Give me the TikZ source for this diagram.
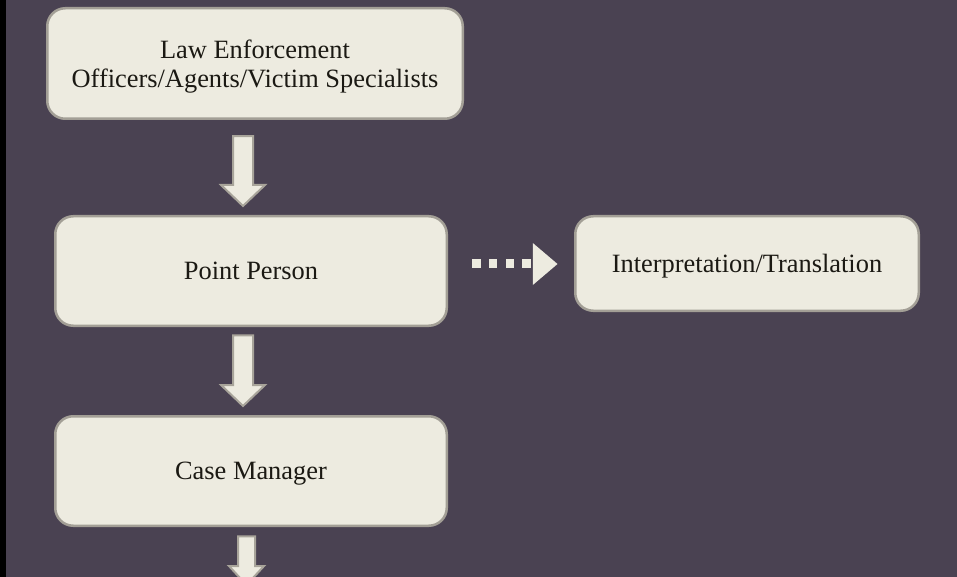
\documentclass[tikz,border=0pt]{standalone}
\usepackage{fontspec}
\setmainfont{Liberation Serif}
\usetikzlibrary{calc}
\definecolor{bgpurple}{HTML}{4A4252}
\definecolor{boxfill}{HTML}{EDEBE0}
\definecolor{boxline}{HTML}{A39F96}
\definecolor{arrline}{HTML}{A8A49A}
\definecolor{textdark}{HTML}{1B1913}
\newcommand\downblock[5]{%
  \draw[blockarr] let \p1=(#1), \p2=(#2) in
    (\x1-#3,\y1) -- (\x1+#3,\y1) -- (\x1+#3,\y2+#5) -- (\x1+#4,\y2+#5)
    -- (\x1,\y2) -- (\x1-#4,\y2+#5) -- (\x1-#3,\y2+#5) -- cycle;}
\begin{document}
\begin{tikzpicture}[x=1pt,y=-1pt,
  box/.style={draw=boxline, line width=2.5pt, fill=boxfill, rounded corners=18pt,
    text=textdark, font=\fontsize{26.4}{29}\selectfont, align=center,
    text depth=0pt, inner sep=0pt},
  blockarr/.style={draw=arrline, line width=2pt, fill=boxfill, line join=miter}]
\fill[bgpurple] (0,0) rectangle (957,577);
\fill[black] (0,0) rectangle (6,577);
\useasboundingbox (0,0) rectangle (957,577);

\node[box, minimum width=415.5pt, minimum height=110.5pt] (le) at (255,63.5)
  {Law Enforcement\\Officers/Agents/Victim Specialists};
\node[box, minimum width=391.5pt, minimum height=109.5pt] (pp) at (251,271) {Point Person};
\node[box, minimum width=391.5pt, minimum height=109.5pt] (cm) at (251,471) {Case Manager};
\node[box, minimum width=343.5pt, minimum height=94.5pt] (it) at (747,263.5) {Interpretation/Translation};

% block arrows down
\coordinate (a1s) at ($(le.south)+(-12,16.25)$);
\coordinate (a1e) at ($(pp.north)+(-8,-9)$);
\downblock{a1s}{a1e}{10pt}{22pt}{21pt}
\coordinate (a2s) at ($(pp.south)+(-8,8.25)$);
\coordinate (a2e) at ($(cm.north)+(-8,-9)$);
\downblock{a2s}{a2e}{10pt}{22pt}{21pt}
\coordinate (a3s) at ($(cm.south)+(-4.5,9.25)$);
\coordinate (a3e) at (246.5,585);
\downblock{a3s}{a3e}{8.5pt}{17.5pt}{19pt}

% dotted arrow to interpretation
\coordinate (ds) at ($(pp.east)+(24.25,-7.3)$);
\coordinate (de) at ($(it.west)+(-16.5,0.5)$);
\foreach \i in {0,...,3}
  \fill[boxfill] ($(ds)+(\i*16.67,-4.65)$) rectangle ++(8.3,9.3);
\fill[boxfill] (de) -- ++(-24.7,-21) -- ++(0,42) -- cycle;
\end{tikzpicture}
\end{document}
